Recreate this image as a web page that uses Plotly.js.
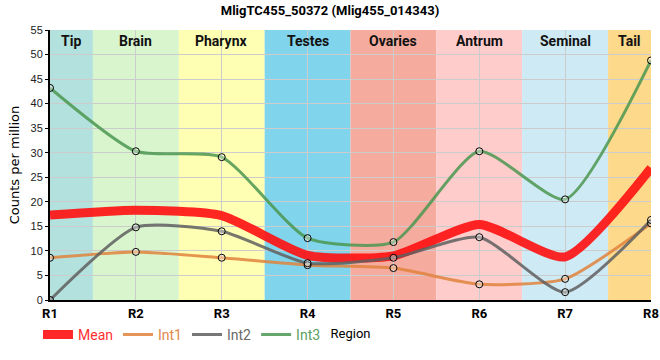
<!DOCTYPE html>
<html>
<head>
<meta charset="utf-8">
<script src="https://cdn.plot.ly/plotly-3.0.1.min.js"></script>
<style>html,body{margin:0;padding:0;background:#fff}#chart{width:660px;height:360px}</style>
</head>
<body>
<div id="chart"></div>
<script>
const regions = ["R1","R2","R3","R4","R5","R6","R7","R8"];
const int1 = [8.6, 9.8, 8.6, 7.1, 6.5, 3.2, 4.3, 15.6];
const int2 = [0.0, 14.8, 14.0, 7.5, 8.6, 12.8, 1.6, 16.3];
const int3 = [43.2, 30.3, 29.1, 12.6, 11.8, 30.3, 20.5, 48.8];
const meanVals = [17.3, 18.3, 17.2, 9.1, 9.0, 15.4, 8.8, 26.9];
const tissues = ["Tip","Brain","Pharynx","Testes","Ovaries","Antrum","Seminal","Tail"];
const tissueColors = ["#b3e1dd","#d8f5cd","#ffffb3","#80d4eb","#f5ab9e","#ffcccc","#ceeaf4","#fdd98b"];

const FONT = "Roboto,'Liberation Sans',Arial,sans-serif";
const shapes = [], annotations = [];
const n = regions.length;
tissues.forEach((t, i) => {
  const x0 = Math.max(i - 0.5, 0), x1 = Math.min(i + 0.5, n - 1);
  shapes.push({type:'rect', xref:'x', yref:'paper', x0:x0, x1:x1, y0:0, y1:1,
    fillcolor: tissueColors[i], line:{width:0}, layer:'below'});
  annotations.push({xref:'x', yref:'paper', x:(x0+x1)/2, y:1, yanchor:'top', yshift:-1,
    text:'<b>'+t+'</b>', showarrow:false, font:{family:FONT, size:14, color:'#111'}});
});

function lineTrace(name, y, color, width, html){
  return {x:regions, y:y, type:'scatter', mode:'lines', name:'<span style="color:'+html+'">'+name+'</span>',
    line:{color:color, width:width, shape:'spline', smoothing:0.6}, hoverinfo:'skip'};
}
function markerTrace(y){
  return {x:regions, y:y, type:'scatter', mode:'markers', showlegend:false,
    marker:{symbol:'circle', size:7, color:'rgba(255,255,255,0.35)', line:{color:'#000', width:1}}, hoverinfo:'skip'};
}
const data = [
  lineTrace('Mean', meanVals, 'rgba(255,15,15,0.9)', 9, '#ff3030'),
  lineTrace('Int1', int1, 'rgba(225,130,60,0.85)', 3, '#e0884a'),
  lineTrace('Int2', int2, 'rgba(95,95,95,0.85)', 3, '#6a6a6a'),
  lineTrace('Int3', int3, 'rgba(75,150,80,0.85)', 3, '#5aa060'),
  markerTrace(int1), markerTrace(int2), markerTrace(int3)
];

const layout = {
  width:660, height:360,
  margin:{l:50, r:9, t:30, b:60},
  paper_bgcolor:'#fff', plot_bgcolor:'#fff',
  title:{text:'<b>MligTC455_50372 (Mlig455_014343)</b>', x:0.5, xanchor:'center',
    yref:'container', y:0.972, yanchor:'middle', font:{family:FONT, size:13, color:'#000'}},
  xaxis:{type:'category', range:[0, n-1], showgrid:true, gridcolor:'#cccccc', gridwidth:1,
    showline:true, linecolor:'#000', linewidth:2, ticks:'', zeroline:false,
    tickfont:{family:FONT, size:13, color:'#000', weight:'bold'},
    title:{text:'Region', font:{family:FONT, size:13, color:'#000'}, standoff:9}},
  yaxis:{range:[0,55], dtick:5, showgrid:true, gridcolor:'#cccccc', gridwidth:1,
    showline:true, linecolor:'#000', linewidth:2, ticks:'outside', ticklen:3, tickcolor:'#000', zeroline:false,
    tickfont:{family:"'Liberation Sans',Arial,sans-serif", size:11, color:'#222'},
    title:{text:'Counts per million', font:{family:"'DejaVu Sans','Liberation Sans',sans-serif", size:13, color:'#000'}, standoff:8}},
  legend:{orientation:'h', x:-0.02, xanchor:'left', y:-0.07, yanchor:'top', itemwidth:30,
    font:{family:FONT, size:14}, bgcolor:'rgba(0,0,0,0)', tracegroupgap:0},
  shapes:shapes, annotations:annotations, showlegend:true
};
Plotly.newPlot('chart', data, layout, {displayModeBar:false, staticPlot:true});
</script>
</body>
</html>
